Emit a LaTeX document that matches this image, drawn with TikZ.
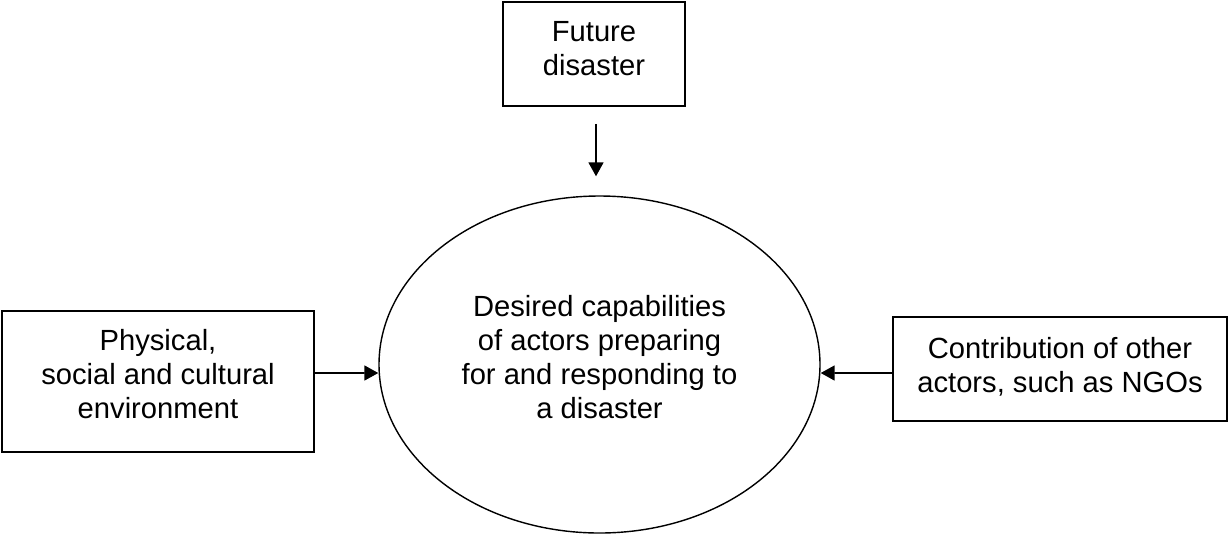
\documentclass[tikz,border=0pt]{standalone}
\usepackage{fontspec}
\setmainfont{Liberation Sans}
\usetikzlibrary{shapes.geometric,arrows.meta}

\begin{document}
\begin{tikzpicture}[
		box/.style={draw, line width=1pt, rectangle, inner sep=0pt, align=center},
		arr/.style={line width=1pt, -{Triangle[length=2.8mm,width=3mm]}},
		font=\fontsize{16.6}{19.3}\selectfont
	]
		% Frame
		\useasboundingbox (0,0) rectangle (24.56,-10.7);
		
		% Central ellipse
		\node[draw, ellipse, line width=0.8pt, inner sep=0pt, minimum width=8.82cm, minimum height=6.74cm, align=center] (ell) at (11.99,-7.29) {Desired capabilities\\of actors preparing\\for and responding to\\a disaster\\[-11pt]};
		
		% Boxes around it
		\node[box, minimum width=3.64cm, minimum height=2.08cm] (fut) at (11.88,-1.08) {Future\\disaster\\[-13pt]};
		\node[box, minimum width=6.24cm, minimum height=2.82cm] (env) at (3.16,-7.63) {Physical,\\social and cultural\\environment\\[-11pt]};
		\node[box, minimum width=6.68cm, minimum height=2.08cm] (ngo) at (21.2,-7.38) {Contribution of other\\actors, such as NGOs\\[-15pt]};
		
		% Arrows
		\draw[arr] ([xshift=0.04cm,yshift=-0.34cm]fut.south) -- ([xshift=0.04cm,yshift=0.38cm]fut.south |- ell.north);
		\draw[arr] ([yshift=0.17cm]env.east) -- ([yshift=-0.17cm]ell.west);
		\draw[arr] ([yshift=-0.08cm]ngo.west) -- ([yshift=-0.17cm]ell.east);
		
	\end{tikzpicture}
\end{document}
